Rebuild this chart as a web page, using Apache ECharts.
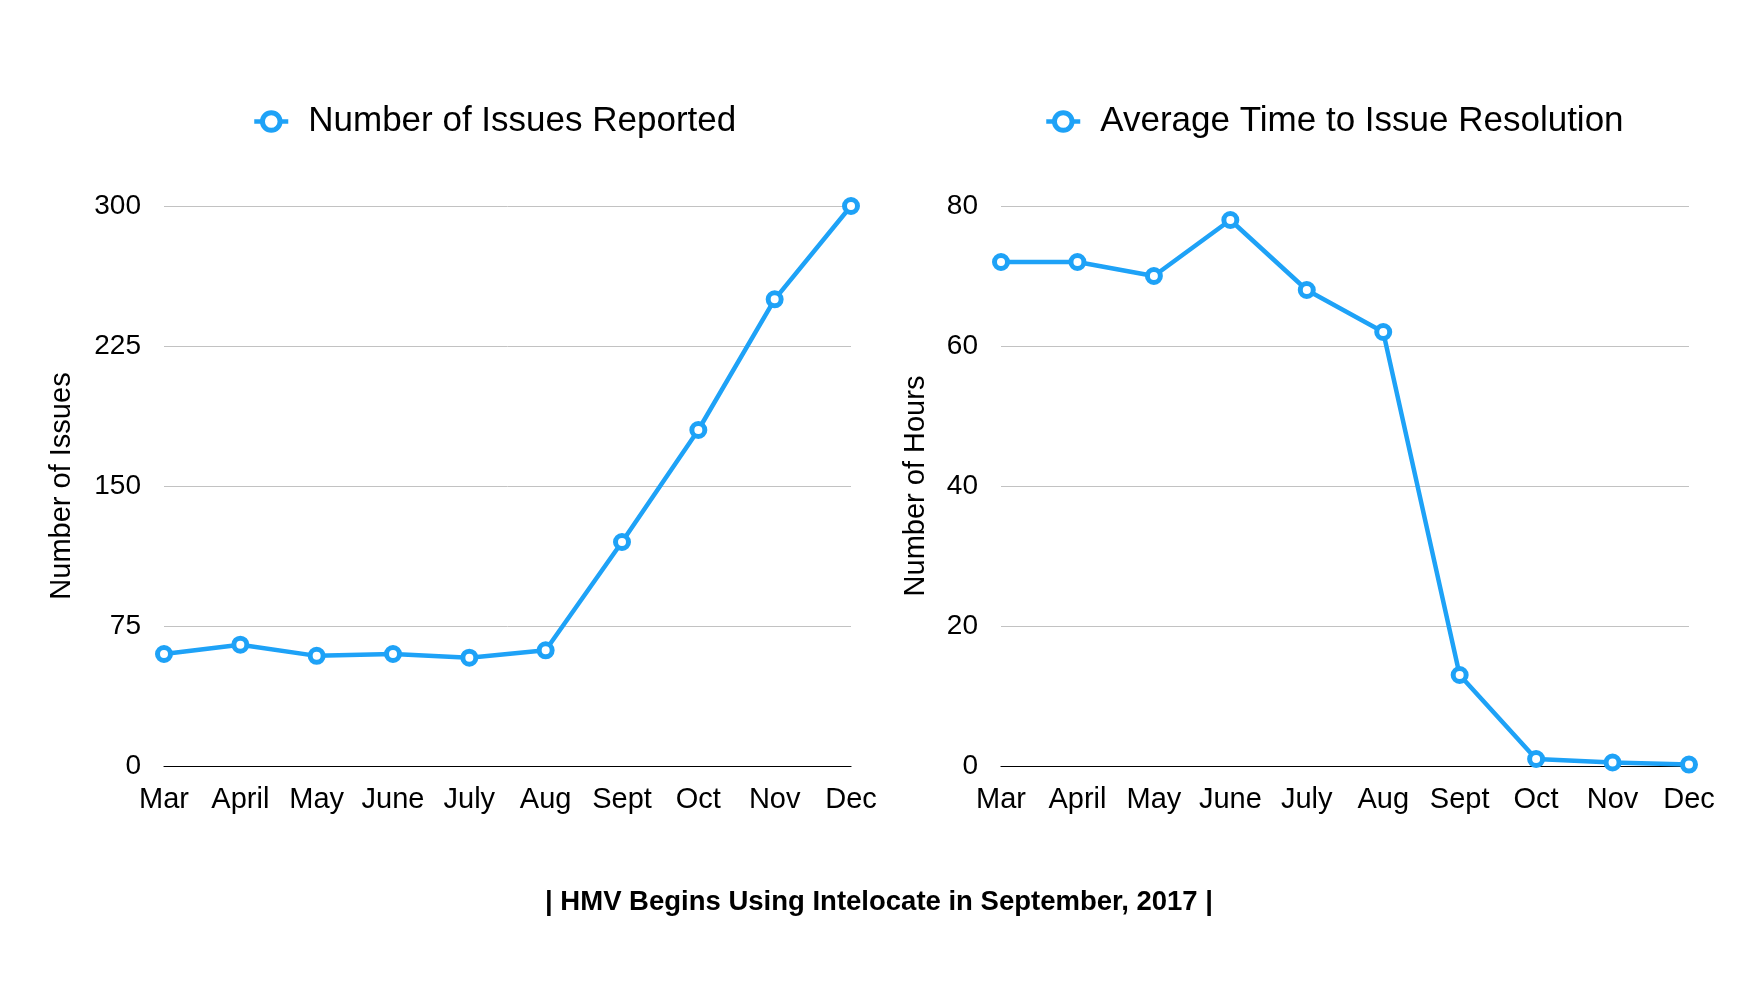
<!DOCTYPE html>
<html>
<head>
<meta charset="utf-8">
<script src="https://cdn.jsdelivr.net/npm/echarts@6/dist/echarts.min.js"></script>
<style>
html,body{margin:0;padding:0;background:#fff;}
#chart{width:1758px;height:984px;}
</style>
</head>
<body>
<div id="chart"></div>
<script>
const months = ['Mar','April','May','June','July','Aug','Sept','Oct','Nov','Dec'];
const issuesName = 'Number of Issues Reported';
const issuesValues = [60, 65, 59, 60, 58, 62, 120, 180, 250, 300];
const hoursName = 'Average Time to Issue Resolution';
const hoursValues = [72, 72, 70, 78, 68, 62, 13, 1, 0.5, 0.2];
const footerText = '| HMV Begins Using Intelocate in September, 2017 |';

const FONT = '"Liberation Sans", Arial, Helvetica, sans-serif';
const BLUE = '#1EA2F7';

const chart = echarts.init(document.getElementById('chart'), null, {renderer:'canvas'});

function yAxisCfg(gridIndex, name, max, interval, nameGap){
  return {
    type:'value', gridIndex, min:0, max, interval,
    name, nameLocation:'middle', nameRotate:90, nameGap,
    nameTextStyle:{color:'#000', fontSize:29, fontFamily:FONT},
    axisLine:{show:false}, axisTick:{show:false},
    axisLabel:{color:'#000', fontSize:28, fontFamily:FONT, margin:23, padding:[3,0,0,0]},
    splitLine:{lineStyle:{color:'#c2c2c2', width:1}}
  };
}
function xAxisCfg(gridIndex){
  return {
    type:'category', gridIndex, data:months, boundaryGap:false,
    axisLine:{lineStyle:{color:'#000', width:1.2}},
    axisTick:{show:false},
    axisLabel:{color:'#000', fontSize:29, fontFamily:FONT, margin:19, interval:0},
    splitLine:{show:false}
  };
}
function seriesCfg(name, data, idx){
  return {
    type:'line', name, data, xAxisIndex:idx, yAxisIndex:idx,
    symbol:'circle', symbolSize:13,
    lineStyle:{color:BLUE, width:4.5},
    itemStyle:{color:'#fff', borderColor:BLUE, borderWidth:5},
    z:3
  };
}
function legendCfg(name, left){
  return {
    data:[name], left, top:99, itemWidth:34, itemHeight:22,
    itemStyle:{color:'#fff', borderColor:BLUE, borderWidth:5},
    lineStyle:{color:BLUE, width:4.5},
    textStyle:{color:'#000', fontSize:35, fontFamily:FONT, padding:[0,0,0,15]},
    selectedMode:false
  };
}

chart.setOption({
  animation:false,
  backgroundColor:'#fff',
  title:{
    text:footerText, left:'center', top:883,
    textStyle:{color:'#000', fontSize:27.5, fontWeight:'bold', fontFamily:FONT}
  },
  legend:[legendCfg(issuesName, 247), legendCfg(hoursName, 1039)],
  grid:[
    {left:164, right:907, top:206, bottom:218, containLabel:false},
    {left:1001, right:69, top:206, bottom:218, containLabel:false}
  ],
  xAxis:[xAxisCfg(0), xAxisCfg(1)],
  yAxis:[yAxisCfg(0,'Number of Issues',300,75,88), yAxisCfg(1,'Number of Hours',80,20,71)],
  series:[seriesCfg(issuesName, issuesValues, 0), seriesCfg(hoursName, hoursValues, 1)]
});
</script>
</body>
</html>
